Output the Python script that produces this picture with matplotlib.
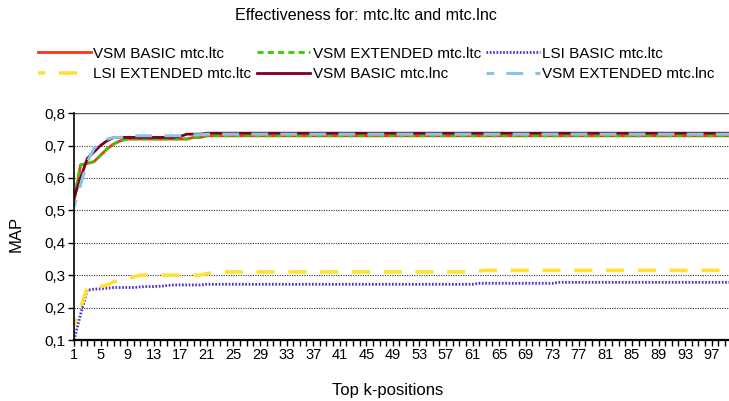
import matplotlib.pyplot as plt
from matplotlib.lines import Line2D

k_positions = list(range(1, 101))

vsm_basic_ltc = [
    0.525, 0.64, 0.645, 0.65, 0.67, 0.69, 0.705, 0.715, 0.72, 0.72,
    0.72, 0.72, 0.72, 0.72, 0.72, 0.72, 0.72, 0.72, 0.725, 0.725,
    0.73, 0.73, 0.73, 0.73, 0.73, 0.73, 0.73, 0.73, 0.73, 0.73,
    0.73, 0.73, 0.73, 0.73, 0.73, 0.73, 0.73, 0.73, 0.73, 0.73,
    0.73, 0.73, 0.73, 0.73, 0.73, 0.73, 0.73, 0.73, 0.73, 0.73,
    0.73, 0.73, 0.73, 0.73, 0.73, 0.73, 0.73, 0.73, 0.73, 0.73,
    0.73, 0.73, 0.73, 0.73, 0.73, 0.73, 0.73, 0.73, 0.73, 0.73,
    0.73, 0.73, 0.73, 0.73, 0.73, 0.73, 0.73, 0.73, 0.73, 0.73,
    0.73, 0.73, 0.73, 0.73, 0.73, 0.73, 0.73, 0.73, 0.73, 0.73,
    0.73, 0.73, 0.73, 0.73, 0.73, 0.73, 0.73, 0.73, 0.73, 0.73,
]
vsm_ext_ltc = [
    0.54, 0.64, 0.645, 0.65, 0.67, 0.69, 0.705, 0.715, 0.72, 0.72,
    0.72, 0.72, 0.72, 0.72, 0.72, 0.72, 0.72, 0.72, 0.725, 0.725,
    0.73, 0.73, 0.73, 0.73, 0.73, 0.73, 0.73, 0.73, 0.73, 0.73,
    0.73, 0.73, 0.73, 0.73, 0.73, 0.73, 0.73, 0.73, 0.73, 0.73,
    0.73, 0.73, 0.73, 0.73, 0.73, 0.73, 0.73, 0.73, 0.73, 0.73,
    0.73, 0.73, 0.73, 0.73, 0.73, 0.73, 0.73, 0.73, 0.73, 0.73,
    0.73, 0.73, 0.73, 0.73, 0.73, 0.73, 0.73, 0.73, 0.73, 0.73,
    0.73, 0.73, 0.73, 0.73, 0.73, 0.73, 0.73, 0.73, 0.73, 0.73,
    0.73, 0.73, 0.73, 0.73, 0.73, 0.73, 0.73, 0.73, 0.73, 0.73,
    0.73, 0.73, 0.73, 0.73, 0.73, 0.73, 0.73, 0.73, 0.73, 0.73,
]
lsi_basic_ltc = [
    0.10, 0.18, 0.254, 0.257, 0.258, 0.26, 0.262, 0.262, 0.262, 0.262,
    0.264, 0.265, 0.265, 0.266, 0.268, 0.27, 0.27, 0.27, 0.27, 0.27,
    0.272, 0.272, 0.272, 0.272, 0.272, 0.272, 0.272, 0.272, 0.272, 0.272,
    0.272, 0.272, 0.272, 0.272, 0.272, 0.272, 0.272, 0.272, 0.272, 0.272,
    0.272, 0.272, 0.272, 0.272, 0.272, 0.272, 0.272, 0.272, 0.272, 0.272,
    0.272, 0.272, 0.272, 0.272, 0.272, 0.272, 0.272, 0.272, 0.272, 0.272,
    0.272, 0.275, 0.275, 0.275, 0.275, 0.275, 0.275, 0.275, 0.275, 0.275,
    0.275, 0.275, 0.275, 0.278, 0.278, 0.278, 0.278, 0.278, 0.278, 0.278,
    0.278, 0.278, 0.278, 0.278, 0.278, 0.278, 0.278, 0.278, 0.278, 0.278,
    0.278, 0.278, 0.278, 0.278, 0.278, 0.278, 0.278, 0.278, 0.278, 0.278,
]
lsi_ext_ltc = [
    0.145, 0.20, 0.262, 0.265, 0.265, 0.27, 0.28, 0.285, 0.29, 0.295,
    0.30, 0.30, 0.30, 0.30, 0.30, 0.30, 0.30, 0.30, 0.30, 0.30,
    0.305, 0.308, 0.31, 0.31, 0.31, 0.31, 0.31, 0.31, 0.31, 0.31,
    0.31, 0.31, 0.31, 0.31, 0.31, 0.31, 0.31, 0.31, 0.31, 0.31,
    0.31, 0.31, 0.31, 0.31, 0.31, 0.31, 0.31, 0.31, 0.31, 0.31,
    0.31, 0.31, 0.31, 0.31, 0.31, 0.31, 0.31, 0.31, 0.31, 0.31,
    0.31, 0.313, 0.315, 0.315, 0.315, 0.315, 0.315, 0.315, 0.315, 0.315,
    0.315, 0.315, 0.315, 0.315, 0.315, 0.315, 0.315, 0.315, 0.315, 0.315,
    0.315, 0.315, 0.315, 0.315, 0.315, 0.315, 0.315, 0.315, 0.315, 0.315,
    0.315, 0.315, 0.315, 0.315, 0.315, 0.315, 0.315, 0.315, 0.315, 0.315,
]
vsm_basic_lnc = [
    0.54, 0.60, 0.66, 0.68, 0.70, 0.715, 0.725, 0.725, 0.725, 0.725,
    0.725, 0.725, 0.725, 0.725, 0.725, 0.725, 0.728, 0.735, 0.735, 0.735,
    0.738, 0.738, 0.738, 0.738, 0.738, 0.738, 0.738, 0.738, 0.738, 0.738,
    0.738, 0.738, 0.738, 0.738, 0.738, 0.738, 0.738, 0.738, 0.738, 0.738,
    0.738, 0.738, 0.738, 0.738, 0.738, 0.738, 0.738, 0.738, 0.738, 0.738,
    0.738, 0.738, 0.738, 0.738, 0.738, 0.738, 0.738, 0.738, 0.738, 0.738,
    0.738, 0.738, 0.738, 0.738, 0.738, 0.738, 0.738, 0.738, 0.738, 0.738,
    0.738, 0.738, 0.738, 0.738, 0.738, 0.738, 0.738, 0.738, 0.738, 0.738,
    0.738, 0.738, 0.738, 0.738, 0.738, 0.738, 0.738, 0.738, 0.738, 0.738,
    0.738, 0.738, 0.738, 0.738, 0.738, 0.738, 0.738, 0.738, 0.738, 0.738,
]
vsm_ext_lnc = [
    0.51, 0.58, 0.65, 0.69, 0.71, 0.72, 0.725, 0.725, 0.728, 0.73,
    0.73, 0.73, 0.73, 0.73, 0.73, 0.73, 0.73, 0.733, 0.733, 0.733,
    0.735, 0.735, 0.735, 0.735, 0.735, 0.735, 0.735, 0.735, 0.735, 0.735,
    0.735, 0.735, 0.735, 0.735, 0.735, 0.735, 0.735, 0.735, 0.735, 0.735,
    0.735, 0.735, 0.735, 0.735, 0.735, 0.735, 0.735, 0.735, 0.735, 0.735,
    0.735, 0.735, 0.735, 0.735, 0.735, 0.735, 0.735, 0.735, 0.735, 0.735,
    0.735, 0.735, 0.735, 0.735, 0.735, 0.735, 0.735, 0.735, 0.735, 0.735,
    0.735, 0.735, 0.735, 0.735, 0.735, 0.735, 0.735, 0.735, 0.735, 0.735,
    0.735, 0.735, 0.735, 0.735, 0.735, 0.735, 0.735, 0.735, 0.735, 0.735,
    0.735, 0.735, 0.735, 0.735, 0.735, 0.735, 0.735, 0.735, 0.735, 0.735,
]

series = [
    ('VSM BASIC mtc.ltc', vsm_basic_ltc, dict(color='#ff3311', lw=2.0, ls='-')),
    ('VSM EXTENDED mtc.ltc', vsm_ext_ltc, dict(color='#33cc00', lw=2.0, ls=(0, (2.2, 1.5)))),
    ('LSI BASIC mtc.ltc', lsi_basic_ltc, dict(color='#4433cc', lw=2.0, ls=(0, (0.6, 0.6)))),
    ('LSI EXTENDED mtc.ltc', lsi_ext_ltc, dict(color='#ffe033', lw=2.6, ls=(3, (5.0, 3.8)))),
    ('VSM BASIC mtc.lnc', vsm_basic_lnc, dict(color='#7b0028', lw=2.0, ls='-')),
    ('VSM EXTENDED mtc.lnc', vsm_ext_lnc, dict(color='#88c4e8', lw=2.2, ls=(3, (5.5, 4.0)))),
]

plt.rcParams['font.family'] = ['Liberation Sans', 'DejaVu Sans']

fig = plt.figure(figsize=(7.29, 4.01), dpi=100)
ax = fig.add_axes([0.1015, 0.152, 0.9021, 0.566])

handles = []
for label, values, style in series:
    ax.plot(k_positions, values, solid_capstyle='butt', dash_capstyle='butt', **style)
    handles.append(Line2D([], [], **style))

ax.set_xlim(1, 100)
ax.set_ylim(0.1, 0.8)
ax.set_yticks([0.1, 0.2, 0.3, 0.4, 0.5, 0.6, 0.7, 0.8])
ax.set_yticklabels(['0,1', '0,2', '0,3', '0,4', '0,5', '0,6', '0,7', '0,8'], fontsize=11)
ax.set_xticks(k_positions)
ax.set_xticklabels([str(k) if (k - 1) % 4 == 0 else '' for k in k_positions], fontsize=10.5)
ax.tick_params(axis='x', length=4, width=1, pad=2)
ax.tick_params(axis='y', length=4.3, width=1, pad=2)

# dotted horizontal grid, solid line across the top
for y in [0.2, 0.3, 0.4, 0.5, 0.6, 0.7]:
    ax.axhline(y, color='#333333', lw=0.8, ls=(0, (1, 1.2)), zorder=0)
ax.axhline(0.8, color='#555555', lw=1.0, zorder=0)

ax.spines['top'].set_visible(False)
ax.spines['right'].set_visible(False)
ax.spines['left'].set_linewidth(1.2)
ax.spines['bottom'].set_linewidth(1.6)

fig.text(16 / 729, 1 - 234 / 401, 'MAP', rotation=90, ha='center', va='center', fontsize=12)
fig.text(388 / 729, 1 - 390 / 401, 'Top k-positions', ha='center', va='center', fontsize=12)
fig.text(366 / 729, 1 - 15 / 401, 'Effectiveness for: mtc.ltc and mtc.lnc',
         ha='center', va='center', fontsize=11.6)

# row-major order for a 3-column legend
order = [0, 3, 1, 4, 2, 5]
fig.legend([handles[i] for i in order], [series[i][0] for i in order],
           loc='center', bbox_to_anchor=(376 / 729, 1 - 64 / 401), ncol=3, frameon=False,
           fontsize=11, handlelength=3.5, handletextpad=0.15,
           columnspacing=0.35, labelspacing=0.45)

fig.savefig('out.png', dpi=100)
